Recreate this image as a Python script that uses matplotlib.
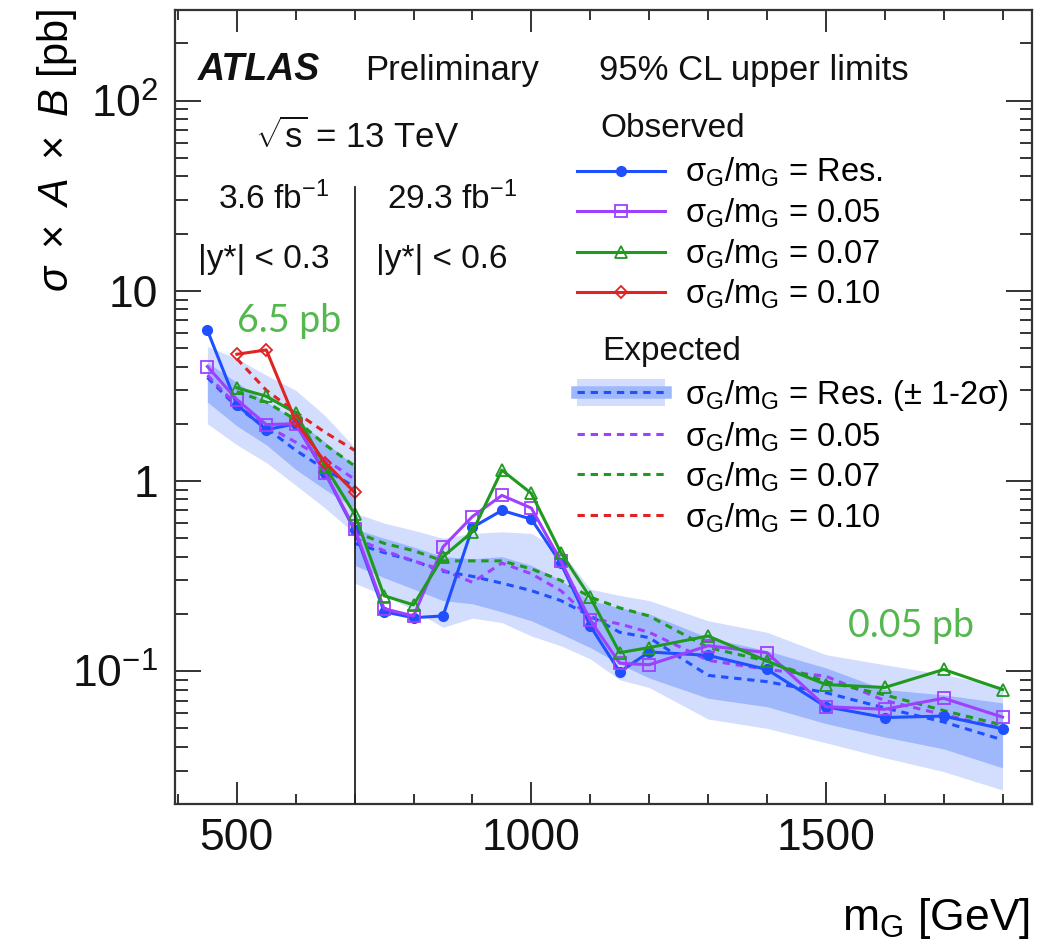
import matplotlib
matplotlib.use("Agg")
import matplotlib.pyplot as plt
from matplotlib.lines import Line2D
from matplotlib.patches import Patch
from matplotlib.ticker import FixedLocator, MultipleLocator, LogLocator, NullFormatter

plt.rcParams['font.family'] = ['Liberation Sans', 'DejaVu Sans']
plt.rcParams['mathtext.fontset'] = 'custom'
plt.rcParams['mathtext.rm'] = 'Liberation Sans'
plt.rcParams['mathtext.it'] = 'Liberation Sans:italic'
plt.rcParams['mathtext.bf'] = 'Liberation Sans:bold'

# ---- data
obs_mass = [450, 500, 550, 600, 650, 700, 750, 800, 850, 900, 950, 1000, 1050,
            1100, 1150, 1200, 1300, 1400, 1500, 1600, 1700, 1800]
obs_res = [6.2, 2.52, 1.86, 2.0, 1.1, 0.55, 0.205, 0.191, 0.195, 0.57, 0.70, 0.63, 0.37,
           0.173, 0.099, 0.126, 0.121, 0.102, 0.065, 0.057, 0.058, 0.0497]
obs_005 = [4.0, 2.68, 1.98, 2.0, 1.1, 0.56, 0.213, 0.195, 0.45, 0.65, 0.84, 0.72, 0.38,
           0.185, 0.11, 0.108, 0.136, 0.125, 0.065, 0.063, 0.072, 0.0573]
obs_007_mass = obs_mass[1:]
obs_007 = [3.09, 2.79, 2.28, 1.19, 0.67, 0.249, 0.223, 0.40, 0.54, 1.14, 0.86, 0.42,
           0.244, 0.125, 0.133, 0.153, 0.113, 0.085, 0.082, 0.102, 0.080]
obs_010_mass = [500, 550, 600, 650, 700]
obs_010 = [4.64, 4.89, 2.06, 1.25, 0.87]

# low mass region (3.6 fb-1)
low_mass = [450, 500, 550, 600, 650, 700]
exp_low_res = [3.5, 2.45, 1.9, 1.45, 1.15, 0.93]
exp_low_005 = [3.6, 2.5, 1.95, 1.6, 1.3, 1.02]
low_mass_b = [500, 550, 600, 650, 700]
exp_low_007 = [2.95, 2.6, 2.1, 1.55, 1.2]
exp_low_010 = [4.4, 3.0, 2.3, 1.8, 1.45]
low_2up = [5.1, 4.4, 3.6, 3.0, 2.2, 1.5]
low_1up = [4.2, 3.3, 2.6, 2.1, 1.6, 1.2]
low_1dn = [2.6, 1.95, 1.55, 1.15, 0.9, 0.72]
low_2dn = [2.0, 1.55, 1.25, 0.95, 0.72, 0.53]

# high mass region (29.3 fb-1)
high_mass = [700, 750, 800, 850, 900, 950, 1000, 1050, 1100, 1150, 1200, 1300,
             1400, 1500, 1600, 1700, 1800]
exp_high_res = [0.47, 0.42, 0.38, 0.335, 0.315, 0.29, 0.265, 0.235, 0.195, 0.16, 0.15,
                0.095, 0.088, 0.077, 0.064, 0.054, 0.0435]
exp_high_005 = [0.5, 0.43, 0.38, 0.34, 0.293, 0.37, 0.325, 0.265, 0.19, 0.177, 0.16,
                0.114, 0.102, 0.094, 0.07, 0.059, 0.05]
exp_high_007 = [0.54, 0.47, 0.43, 0.38, 0.38, 0.38, 0.345, 0.30, 0.245, 0.215, 0.195,
                0.133, 0.113, 0.088, 0.075, 0.062, 0.052]
high_2up = [0.68, 0.6, 0.55, 0.5, 0.53, 0.54, 0.53, 0.43, 0.27, 0.25, 0.235, 0.184,
            0.16, 0.122, 0.108, 0.096, 0.083]
high_1up = [0.56, 0.5, 0.45, 0.4, 0.39, 0.40, 0.36, 0.30, 0.235, 0.215, 0.2, 0.15,
            0.128, 0.104, 0.08, 0.075, 0.068]
high_1dn = [0.36, 0.31, 0.27, 0.235, 0.226, 0.205, 0.184, 0.157, 0.133, 0.109, 0.092,
            0.072, 0.065, 0.053, 0.045, 0.039, 0.031]
high_2dn = [0.29, 0.25, 0.21, 0.17, 0.19, 0.18, 0.153, 0.136, 0.116, 0.09, 0.082,
            0.056, 0.05, 0.042, 0.035, 0.0296, 0.0237]

c_blue = '#1f4fff'
c_purple = '#a040ff'
c_green = '#1f9a1f'
c_red = '#e02424'
c_band2 = '#d3ddfd'
c_band1 = '#9fb8fb'
dash = (0, (2.4, 1.9))

fig = plt.figure(figsize=(10.53, 9.47), dpi=100)
ax = fig.add_axes([175 / 1053, 1 - 804 / 947, 857 / 1053, 794 / 947])

# bands
for m, lo2, hi2, lo1, hi1 in [(low_mass, low_2dn, low_2up, low_1dn, low_1up),
                              (high_mass, high_2dn, high_2up, high_1dn, high_1up)]:
    ax.fill_between(m, lo2, hi2, color=c_band2, lw=0, zorder=1)
    ax.fill_between(m, lo1, hi1, color=c_band1, lw=0, zorder=1.1)

# expected lines
ax.plot(low_mass, exp_low_res, color=c_blue, ls=dash, lw=2.2, zorder=2)
ax.plot(high_mass, exp_high_res, color=c_blue, ls=dash, lw=2.2, zorder=2)
ax.plot(low_mass, exp_low_005, color=c_purple, ls=dash, lw=2.2, zorder=2)
ax.plot(high_mass, exp_high_005, color=c_purple, ls=dash, lw=2.2, zorder=2)
ax.plot(low_mass_b, exp_low_007, color=c_green, ls=dash, lw=2.2, zorder=2)
ax.plot(high_mass, exp_high_007, color=c_green, ls=dash, lw=2.2, zorder=2)
ax.plot(low_mass_b, exp_low_010, color=c_red, ls=dash, lw=2.2, zorder=2)

# observed
ax.plot(obs_mass, obs_res, color=c_blue, lw=2.2, marker='o', ms=7, zorder=3)
ax.plot(obs_mass, obs_005, color=c_purple, lw=2.2, marker='s', ms=9, mfc='none',
        mew=1.3, zorder=3)
ax.plot(obs_007_mass, obs_007, color=c_green, lw=2.2, marker='^', ms=9, mfc='none',
        mew=1.3, zorder=3)
ax.plot(obs_010_mass, obs_010, color=c_red, lw=2.2, marker='D', ms=6, mfc='none',
        mew=1.3, zorder=3)

ax.axvline(700, ymin=0, ymax=(804 - 187) / 794, color='#222222', lw=1.3, zorder=4)

ax.set_yscale('log')
ax.set_xlim(395, 1850)
ax.set_ylim(0.02, 300)

ax.xaxis.set_major_locator(FixedLocator([500, 1000, 1500]))
ax.xaxis.set_minor_locator(MultipleLocator(100))
ax.yaxis.set_major_locator(FixedLocator([0.1, 1, 10, 100]))
ax.set_yticklabels([r'$\mathregular{10^{-1}}$', '1', '10', r'$\mathregular{10^{2}}$'])
ax.yaxis.set_minor_locator(LogLocator(base=10, subs=range(2, 10)))
ax.yaxis.set_minor_formatter(NullFormatter())

ax.tick_params(which='both', direction='in', top=True, right=True, width=1.2,
               labelsize=32, colors='#111111')
ax.tick_params(axis='x', which='major', length=16, pad=10)
ax.tick_params(axis='x', which='minor', length=7)
ax.tick_params(axis='y', which='major', length=19, pad=12)
ax.tick_params(axis='y', which='minor', length=9)
for s in ax.spines.values():
    s.set_linewidth(1.6)
    s.set_color('#333333')

fig.text(57 / 1053, 1 - 150 / 947, r'$\sigma\ \times\ A\ \times\ B$ [pb]', rotation=90,
         ha='center', va='center', fontsize=30)
fig.text(1030 / 1053, 1 - 930 / 947, r'm$_\mathregular{G}$ [GeV]', ha='right',
         va='baseline', fontsize=32)


def axfrac(px, py):
    return (px - 175) / 857, (804 - py) / 794


txt = dict(transform=ax.transAxes, va='baseline', color='#111111')
ax.text(*axfrac(198, 80), 'ATLAS', fontsize=27, fontweight='bold', style='italic', **txt)
ax.text(*axfrac(365, 80), 'Preliminary', fontsize=25, **txt)
ax.text(*axfrac(599, 80), '95% CL upper limits', fontsize=25, **txt)
ax.text(*axfrac(255, 148), r'$\sqrt{\mathregular{s}}$ = 13 TeV', fontsize=25, **txt)
ax.text(*axfrac(218, 209), r'3.6 fb$^\mathregular{-1}$', fontsize=24, **txt)
ax.text(*axfrac(387, 209), r'29.3 fb$^\mathregular{-1}$', fontsize=24, **txt)
ax.text(*axfrac(198, 268), '|y*| < 0.3', fontsize=24, **txt)
ax.text(*axfrac(376, 268), '|y*| < 0.6', fontsize=24, **txt)
ax.text(*axfrac(600, 137), 'Observed', fontsize=24, **txt)
ax.text(*axfrac(602, 360), 'Expected', fontsize=24, **txt)

lab = r'σ$_\mathregular{G}$/m$_\mathregular{G}$ = '
obs_handles = [
    Line2D([], [], color=c_blue, lw=2.2, marker='o', ms=7),
    Line2D([], [], color=c_purple, lw=2.2, marker='s', ms=9, mfc='none', mew=1.3),
    Line2D([], [], color=c_green, lw=2.2, marker='^', ms=9, mfc='none', mew=1.3),
    Line2D([], [], color=c_red, lw=2.2, marker='D', ms=6, mfc='none', mew=1.3),
]
obs_labels = [lab + 'Res.', lab + '0.05', lab + '0.07', lab + '0.10']
leg1 = ax.legend(obs_handles, obs_labels, loc='upper left',
                 bbox_to_anchor=axfrac(577, 156), frameon=False, fontsize=23.5,
                 handlelength=2.7, handletextpad=0.6, labelspacing=0.22,
                 borderpad=0, borderaxespad=0)
ax.add_artist(leg1)

exp_handles = [
    (Patch(color=c_band2, lw=0), Line2D([], [], color=c_band1, lw=9),
     Line2D([], [], color=c_blue, ls=dash, lw=2.2)),
    Line2D([], [], color=c_purple, ls=dash, lw=2.2),
    Line2D([], [], color=c_green, ls=dash, lw=2.2),
    Line2D([], [], color=c_red, ls=dash, lw=2.2),
]
exp_labels = [lab + r'Res. ($\mathregular{\pm}$ 1-2σ)', lab + '0.05', lab + '0.07',
              lab + '0.10']
ax.legend(exp_handles, exp_labels, loc='upper left',
          bbox_to_anchor=axfrac(577, 378), frameon=False, fontsize=23.5,
          handlelength=2.7, handleheight=0.9, handletextpad=0.6, labelspacing=0.22,
          borderpad=0, borderaxespad=0)

# annotations added on top of the plot
ax.text(*axfrac(237, 332), '6.5 pb', fontsize=27, color='#55b84f', family='Lato',
        va='baseline', transform=ax.transAxes)
ax.text(*axfrac(848, 637), '0.05 pb', fontsize=27, color='#55b84f', family='Lato',
        va='baseline', transform=ax.transAxes)

fig.savefig('out.png', dpi=100)
